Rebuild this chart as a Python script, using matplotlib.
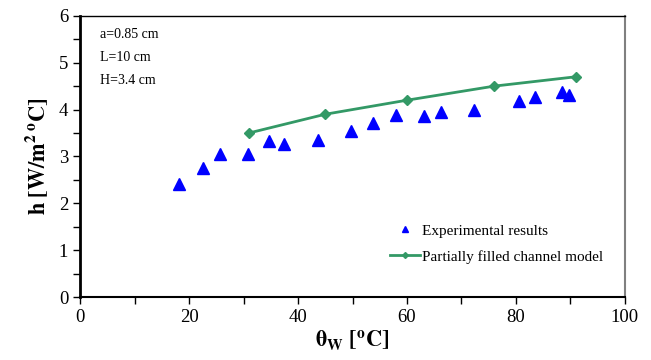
import matplotlib
matplotlib.use("Agg")
import matplotlib.pyplot as plt
from matplotlib.ticker import MultipleLocator

plt.rcParams['font.family'] = ['Liberation Serif', 'DejaVu Serif']
plt.rcParams['mathtext.fontset'] = 'stix'

# Experimental data
exp_theta = [18.2, 22.6, 25.6, 30.8, 34.7, 37.4, 43.7, 49.7, 53.8, 58.0,
             63.1, 66.2, 72.3, 80.6, 83.5, 88.4, 89.7]
exp_h = [2.41, 2.75, 3.05, 3.05, 3.33, 3.27, 3.35, 3.55, 3.72, 3.88,
         3.86, 3.95, 3.99, 4.19, 4.26, 4.37, 4.31]

# Partially filled channel model
model_theta = [31, 45, 60, 76, 91]
model_h = [3.5, 3.9, 4.2, 4.5, 4.7]

params = ["a=0.85 cm", "L=10 cm", "H=3.4 cm"]

fig = plt.figure(figsize=(6.51, 3.6), dpi=100)
ax = fig.add_axes([0.123, 0.175, 0.837, 0.781])

ax.plot(exp_theta, exp_h, linestyle='none', marker='^', markersize=8,
        color='#0000ff', label='Experimental results')
ax.plot(model_theta, model_h, color='#339966', linewidth=2, marker='D',
        markersize=5, label='Partially filled channel model')

ax.set_xlim(0, 100)
ax.set_ylim(0, 6)
ax.xaxis.set_major_locator(MultipleLocator(20))
ax.xaxis.set_minor_locator(MultipleLocator(10))
ax.yaxis.set_major_locator(MultipleLocator(1))
ax.yaxis.set_minor_locator(MultipleLocator(0.5))
ax.tick_params(which='both', direction='out', labelsize=13.5, width=1)
ax.tick_params(which='major', length=5)
ax.tick_params(which='minor', length=5)

ax.spines['left'].set_linewidth(2)
ax.spines['bottom'].set_linewidth(1.5)
ax.spines['top'].set_linewidth(1)
ax.spines['right'].set_color('#808080')
ax.spines['right'].set_linewidth(1.5)

ax.set_xlabel(r'$\mathbf{\theta_{W}\ [^{o}C]}$', fontsize=16, labelpad=2)
ax.set_ylabel(r'$\mathbf{h\ [W/m^{2}\,^{o}C]}$', fontsize=16, labelpad=6)

for i, t in enumerate(params):
    ax.text(0.037, 0.935 - i * 0.082, t, transform=ax.transAxes,
            fontsize=10, va='center')

ax.legend(loc='lower right', bbox_to_anchor=(0.985, 0.07), frameon=False,
          fontsize=11, handlelength=2, handletextpad=0.1, markerscale=0.6,
          labelspacing=0.8)

fig.savefig('out.png', dpi=100)
